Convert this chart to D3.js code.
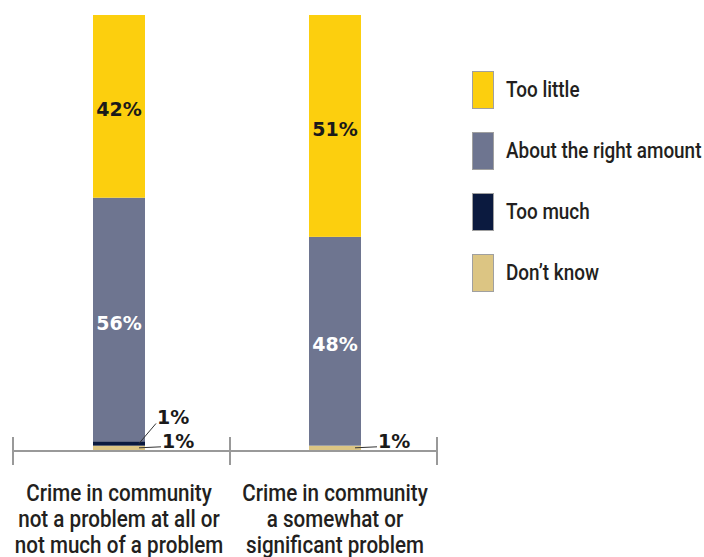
<!DOCTYPE html>
<html>
<head>
<meta charset="utf-8">
<script src="https://cdn.jsdelivr.net/npm/d3@7"></script>
<style>
  body { margin: 0; background: #fff; }
</style>
</head>
<body>
<svg width="704" height="557"></svg>
<script>
const svg = d3.select("svg");

const categories = [
  ["Crime in community", "not a problem at all or", "not much of a problem"],
  ["Crime in community", "a somewhat or", "significant problem"]
];
const seriesNames = ["Don\u2019t know", "Too much", "About the right amount", "Too little"];
const dontKnow = [1, 1];
const tooMuch = [1, 0];
const rightAmount = [56, 48];
const tooLittle = [42, 51];
const legendOrder = ["Too little", "About the right amount", "Too much", "Don\u2019t know"];

const colors = {
  "Too little": "#fccf0e",
  "About the right amount": "#6e7590",
  "Too much": "#0b1a3f",
  "Don\u2019t know": "#dcc583"
};
const labelColors = {
  "Too little": "#1a1a1a",
  "About the right amount": "#ffffff"
};

const rows = categories.map((c, i) => ({
  key: i,
  "Don\u2019t know": dontKnow[i],
  "Too much": tooMuch[i],
  "About the right amount": rightAmount[i],
  "Too little": tooLittle[i]
}));

const stacked = d3.stack().keys(seriesNames)(rows);

const x = d3.scaleBand().domain([0, 1]).range([11, 443]);
const y = d3.scaleLinear().domain([0, 100]).range([450, 15]);
const barW = 52;
const barX = i => x(i) + x.bandwidth() / 2 - barW / 2;

// no condensed face installed, so squeeze Roboto horizontally
const condensed = "Roboto, sans-serif";
const squeeze = 0.86;
const bold = "'DejaVu Sans', sans-serif";

// bars
const layers = svg.append("g").selectAll("g").data(stacked).enter().append("g")
  .attr("fill", d => colors[d.key]);

layers.selectAll("rect").data(d => d.map(p => Object.assign({ key: d.key }, p)))
  .enter().append("rect")
  .attr("x", d => barX(d.data.key))
  .attr("width", barW)
  .attr("y", d => y(d[1]))
  .attr("height", d => y(d[0]) - y(d[1]));

// big labels
layers.filter(d => labelColors[d.key]).selectAll("text")
  .data(d => d.map(p => Object.assign({ key: d.key }, p)))
  .enter().append("text")
  .attr("x", d => barX(d.data.key) + barW / 2)
  .attr("y", d => (y(d[0]) + y(d[1])) / 2 + 10)
  .attr("text-anchor", "middle")
  .attr("fill", d => labelColors[d.key])
  .style("font-family", bold)
  .style("font-weight", "bold")
  .style("font-size", "19px")
  .text(d => (d[1] - d[0]) + "%");

// small callouts
const callouts = [];
stacked.forEach(s => {
  if (s.key === "Too much" || s.key === "Don\u2019t know") {
    s.forEach(p => {
      if (p[1] - p[0] > 0) callouts.push({ key: s.key, cat: p.data.key, p: p });
    });
  }
});
const g2 = svg.append("g");
callouts.forEach(c => {
  const mid = (y(c.p[0]) + y(c.p[1])) / 2;
  const x0 = barX(c.cat) + barW - 6;
  let tx, ty;
  if (c.key === "Too much") { tx = x0 + 17; ty = mid - 20; }
  else { tx = x0 + 22; ty = mid - 1; }
  g2.append("line")
    .attr("x1", x0).attr("y1", mid).attr("x2", tx).attr("y2", ty)
    .attr("stroke", "#333").attr("stroke-width", 1);
  g2.append("text")
    .attr("x", tx + 1).attr("y", ty + 1)
    .style("font-family", bold).style("font-weight", "bold").style("font-size", "19px")
    .attr("fill", "#1a1a1a")
    .text((c.p[1] - c.p[0]) + "%");
});

// axis
const axisG = svg.append("g").attr("transform", "translate(0,451)");
axisG.append("line").attr("x1", 13).attr("x2", 437)
  .attr("stroke", "#999").attr("stroke-width", 2);
axisG.selectAll("line.tick").data([13, 230, 437]).enter().append("line")
  .attr("class", "tick")
  .attr("x1", d => d).attr("x2", d => d).attr("y1", -14).attr("y2", 14)
  .attr("stroke", "#999").attr("stroke-width", 2);

// category labels
categories.forEach((lines, i) => {
  const cx = x(i) + x.bandwidth() / 2;
  const t = svg.append("g")
    .attr("transform", `translate(${cx},501) scale(${squeeze},1)`)
    .append("text")
    .attr("text-anchor", "middle")
    .attr("fill", "#231f20")
    .style("font-family", condensed)
    .style("font-weight", 500)
    .style("font-size", "24px");
  lines.forEach((l, j) => {
    t.append("tspan").attr("x", 0).attr("dy", j === 0 ? 0 : 26).text(l);
  });
});

// legend
const legend = svg.append("g").attr("transform", "translate(472,71)");
const li = legend.selectAll("g").data(legendOrder).enter().append("g")
  .attr("transform", (d, i) => `translate(0,${i * 61})`);
li.append("rect").attr("x", 0.5).attr("y", 0.5).attr("width", 21).attr("height", 37)
  .attr("fill", d => colors[d]).attr("stroke", "#a0a0a0").attr("stroke-width", 1);
li.append("text")
  .attr("transform", `translate(34,26) scale(${squeeze},1)`)
  .attr("fill", "#231f20")
  .style("font-family", condensed)
  .style("font-weight", 500)
  .style("font-size", "22px")
  .text(d => d);
</script>
</body>
</html>
